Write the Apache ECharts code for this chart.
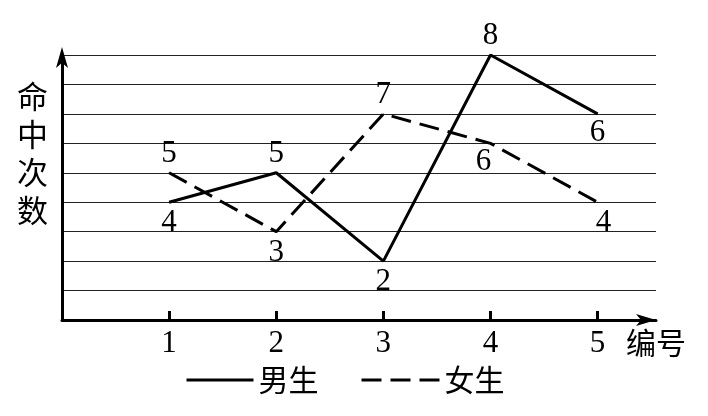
<!DOCTYPE html>
<html><head><meta charset="utf-8">
<script src="https://cdn.jsdelivr.net/npm/echarts@6/dist/echarts.min.js"></script>
<style>html,body{margin:0;padding:0;background:#fff}#c{width:708px;height:416px}</style>
</head><body><div id="c"></div>
<script>
// ---- data ----
const categories = [1, 2, 3, 4, 5];
// heights as drawn on the grid
const maleValues = [4, 5, 2, 9, 7];
// numbers printed next to the male points
const maleLabels = ['4', '5', '2', '8', '6'];
const femaleValues = [5, 3, 7, 6, 4];
const femaleLabels = ['5', '3', '7', '6', '4'];
const seriesNames = ['男生', '女生'];
const yAxisTitle = '命\n中\n次\n数';
const xAxisTitle = '编号';

// ---- styles ----
const serif = "'Liberation Serif','Times New Roman',serif";
const cjk = "'Noto Sans CJK SC','Noto Sans CJK JP',sans-serif";
const malePos = ['bottom', 'top', 'bottom', 'top', 'bottom'];
const femalePos = ['top', 'bottom', 'top', 'bottom', 'bottom'];
const maleOff = [[0, 2], [0, 0], [0, 2], [0, 0], [0, 0]];
const femaleOff = [[0, 0], [0, 2], [0, 0], [-7, 0], [6, 2]];

function build(vals, labels, pos, offs) {
  return vals.map((v, i) => ({
    value: [categories[i], v],
    label: { show: true, position: pos[i], offset: offs[i], formatter: labels[i] }
  }));
}
const labelStyle = { fontFamily: serif, fontSize: 31, color: '#000', distance: 3 };

const chart = echarts.init(document.getElementById('c'), null, { renderer: 'canvas' });
const option = {
  animation: false,
  backgroundColor: '#fff',
  title: [
    { text: yAxisTitle, left: 17, top: 77, padding: 0,
      textStyle: { fontFamily: cjk, fontSize: 31, fontWeight: 'normal', lineHeight: 38, color: '#000' } },
    { text: xAxisTitle, left: 626, top: 328, padding: 0,
      textStyle: { fontFamily: cjk, fontSize: 30, fontWeight: 'normal', color: '#000' } }
  ],
  grid: { left: 62, right: 52, top: 55, bottom: 96 },
  xAxis: {
    type: 'value', min: 0, max: 5.545, interval: 1,
    axisLine: { show: true, lineStyle: { color: '#000', width: 3 }, symbol: ['none', 'arrow'], symbolSize: [9, 20] },
    axisTick: { show: true, inside: true, length: 9, lineStyle: { width: 3, color: '#000' }, customValues: categories },
    axisLabel: { customValues: categories, fontFamily: serif, fontSize: 31, color: '#000', margin: 8 },
    splitLine: { show: false }
  },
  yAxis: {
    type: 'value', min: 0, max: 9, interval: 1,
    axisLine: { show: true, lineStyle: { color: '#000', width: 3 }, symbol: ['none', 'arrow'], symbolSize: [9, 21], symbolOffset: [0, 8] },
    axisTick: { show: false },
    axisLabel: { show: false },
    splitLine: { show: true, lineStyle: { color: '#222', width: 1 } }
  },
  legend: [
    { data: [seriesNames[0]], left: 185, top: 365, itemWidth: 67, itemHeight: 14, padding: 0,
      itemStyle: { opacity: 0 }, lineStyle: { width: 3, color: '#000' },
      textStyle: { fontFamily: cjk, fontSize: 30, color: '#000' } },
    { data: [seriesNames[1]], left: 360, top: 365, itemWidth: 78, itemHeight: 14, padding: 0,
      itemStyle: { opacity: 0 }, lineStyle: { width: 3, color: '#000', type: [20, 9] },
      textStyle: { fontFamily: cjk, fontSize: 30, color: '#000' } }
  ],
  series: [
    { name: seriesNames[0], type: 'line', symbol: 'circle', symbolSize: 1,
      itemStyle: { color: '#000' }, lineStyle: { color: '#000', width: 3 },
      label: labelStyle,
      data: build(maleValues, maleLabels, malePos, maleOff) },
    { name: seriesNames[1], type: 'line', symbol: 'circle', symbolSize: 1,
      itemStyle: { color: '#000' }, lineStyle: { color: '#000', width: 3, type: [20, 9] },
      label: labelStyle,
      data: build(femaleValues, femaleLabels, femalePos, femaleOff) }
  ]
};
chart.setOption(option);
</script></body></html>
